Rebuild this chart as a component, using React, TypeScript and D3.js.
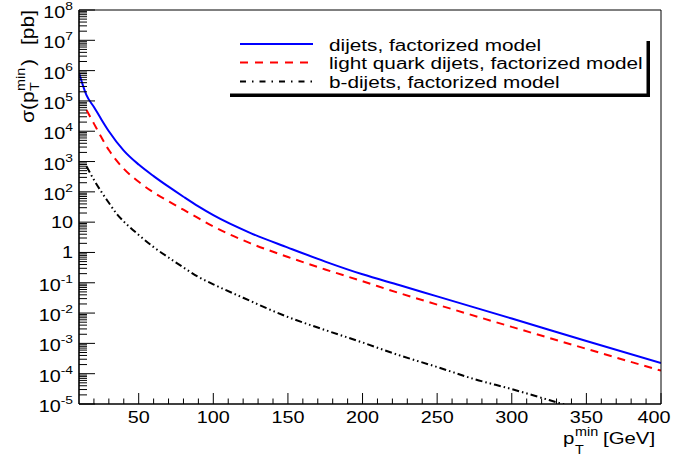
import React from "react";
import * as d3 from "d3";

// ---- data ----
const ptDijets = [10, 15, 20, 25, 30, 40, 50, 60, 70, 80, 90, 100, 125, 150, 175, 200, 225, 250, 300, 350, 400];
const sigmaDijets = [8.5e5, 1.55e5, 6.3e4, 2.45e4, 1.0e4, 2.3e3, 795, 331, 148, 69, 33.1, 17.0, 4.37, 1.45, 0.5, 0.19, 0.083, 0.0355, 6.6e-3, 1.2e-3, 2.24e-4];

const ptLight = [15, 20, 25, 30, 40, 50, 60, 70, 80, 90, 100, 125, 150, 175, 200, 225, 250, 300, 350, 400];
const sigmaLight = [5.0e4, 1.78e4, 6.3e3, 2.4e3, 575, 214, 95, 49, 25.7, 13.5, 7.2, 2.0, 0.71, 0.275, 0.112, 0.045, 0.019, 3.5e-3, 6.6e-4, 1.26e-4];

const ptB = [15, 20, 25, 30, 35, 40, 50, 60, 70, 80, 90, 100, 120, 150, 175, 200, 225, 250, 275, 300, 325, 350];
const sigmaB = [700, 250, 100, 43.6, 19.5, 10.5, 3.8, 1.5, 0.68, 0.32, 0.155, 0.089, 0.032, 7.4e-3, 2.75e-3, 1.07e-3, 4.0e-4, 1.66e-4, 6.6e-5, 3.1e-5, 1.35e-5, 6.0e-6];

const legendLabels = [
  "dijets, factorized model",
  "light quark dijets, factorized model",
  "b-dijets, factorized model",
];
const xTickValues = [50, 100, 150, 200, 250, 300, 350, 400];
const yExponents = [8, 7, 6, 5, 4, 3, 2, 1, 0, -1, -2, -3, -4, -5];

// ---- layout ----
const W = 676, H = 457;
const L = 79, R = 661, T = 10, B = 404;
const FONT = "'Liberation Sans', Arial, Helvetica, sans-serif";
const SX = 1.2;

const x = d3.scaleLinear().domain([10, 400]).range([L, R]);
const y = d3.scaleLog().domain([1e-5, 1e8]).range([B, T]);

function mkLine(px: number[], py: number[]) {
  const pts = px.map((p, i) => [p, py[i]] as [number, number]);
  return d3
    .line<[number, number]>()
    .x((d) => x(d[0]))
    .y((d) => y(d[1]))
    .curve(d3.curveMonotoneX)(pts) as string;
}

function WText(props: { x: number; y: number; size: number; anchor?: string; children: React.ReactNode }) {
  return (
    <text
      transform={`translate(${props.x},${props.y}) scale(${SX},1)`}
      fontSize={props.size}
      textAnchor={props.anchor || "start"}
      fontFamily={FONT}
      fill="#000"
    >
      {props.children}
    </text>
  );
}

export default function App() {
  const minorY: number[] = [];
  for (let e = -5; e < 8; e++) for (let k = 2; k <= 9; k++) minorY.push(k * Math.pow(10, e));
  const minorX: number[] = [];
  for (let v = 20; v <= 400; v += 10) if (v % 50 !== 0) minorX.push(v);

  const series = [
    { px: ptDijets, py: sigmaDijets, color: "#0000ff", dash: undefined as string | undefined, legDash: undefined as string | undefined },
    { px: ptLight, py: sigmaLight, color: "#ff0000", dash: "8,6", legDash: "8,7" },
    { px: ptB, py: sigmaB, color: "#000000", dash: "7,3,1.5,3,1.5,3", legDash: "6,6,1.5,6" },
  ];
  const legRows = [44, 62.5, 81.5];

  return (
    <svg width={W} height={H} style={{ position: "absolute", left: 0, top: 0, background: "#fff" }}>
      <rect x={0} y={0} width={W} height={H} fill="#fff" />
      <defs>
        <clipPath id="plotclip">
          <rect x={L} y={T} width={R - L} height={B - T} />
        </clipPath>
      </defs>

      {/* curves */}
      <g clipPath="url(#plotclip)">
        {series.map((s, i) => (
          <path key={i} d={mkLine(s.px, s.py)} fill="none" stroke={s.color} strokeWidth={2} strokeDasharray={s.dash} />
        ))}
      </g>

      {/* frame */}
      <line x1={L} x2={R} y1={T} y2={T} stroke="#000" strokeWidth={1} />
      <line x1={R} x2={R} y1={T} y2={B} stroke="#000" strokeWidth={1} />
      <line x1={L} x2={L} y1={T} y2={B} stroke="#000" strokeWidth={1.6} />
      <line x1={L} x2={R} y1={B} y2={B} stroke="#000" strokeWidth={1.6} />

      {/* y ticks */}
      {yExponents.map((e) => (
        <line key={"ym" + e} x1={L} x2={L + 16} y1={y(Math.pow(10, e))} y2={y(Math.pow(10, e))} stroke="#000" strokeWidth={1} />
      ))}
      {minorY.map((v, i) => (
        <line key={"yn" + i} x1={L} x2={L + 8} y1={y(v)} y2={y(v)} stroke="#000" strokeWidth={1} />
      ))}
      {/* x ticks */}
      {xTickValues.map((v) => (
        <line key={"xm" + v} x1={x(v)} x2={x(v)} y1={B} y2={B - 11} stroke="#000" strokeWidth={1} />
      ))}
      {minorX.map((v) => (
        <line key={"xn" + v} x1={x(v)} x2={x(v)} y1={B} y2={B - 5.5} stroke="#000" strokeWidth={1} />
      ))}

      {/* y tick labels */}
      {yExponents.map((e) => {
        const yy = y(Math.pow(10, e));
        if (e === 0)
          return (
            <WText key={"yl" + e} x={73} y={yy + 6} size={16.5} anchor="end">
              1
            </WText>
          );
        if (e === 1)
          return (
            <WText key={"yl" + e} x={73} y={yy + 6} size={16.5} anchor="end">
              10
            </WText>
          );
        return (
          <WText key={"yl" + e} x={73} y={yy + 8} size={16.5} anchor="end">
            10
            <tspan fontSize={11.5} dy={-8}>
              {e < 0 ? "-" + Math.abs(e) : String(e)}
            </tspan>
          </WText>
        );
      })}

      {/* x tick labels */}
      {xTickValues.map((v) => (
        <WText key={"xl" + v} x={Math.min(x(v), W - 22)} y={423} size={16.5} anchor="middle">
          {String(v)}
        </WText>
      ))}

      {/* x title */}
      <WText x={563} y={444} size={17}>p</WText>
      <WText x={575} y={436} size={12}>min</WText>
      <WText x={575} y={454} size={12}>T</WText>
      <WText x={603} y={444} size={17}>[GeV]</WText>

      {/* y title */}
      <g transform="translate(34,123) rotate(-90)">
        <WText x={0} y={0} size={17.5}>σ(p</WText>
        <WText x={32} y={-9} size={12}>min</WText>
        <WText x={32} y={5} size={12}>T</WText>
        <WText x={57} y={0} size={17.5}>)</WText>
        <WText x={113} y={0} size={17.5} anchor="end">[pb]</WText>
      </g>

      {/* legend */}
      <rect x={230} y={93.5} width={420} height={3.5} fill="#000" />
      <rect x={646.5} y={41} width={3.5} height={56} fill="#000" />
      {series.map((s, i) => (
        <g key={"lg" + i}>
          <line x1={240} x2={313} y1={legRows[i]} y2={legRows[i]} stroke={s.color} strokeWidth={2} strokeDasharray={s.legDash} />
          <WText x={329} y={legRows[i] + 6.5} size={17.3}>
            {legendLabels[i]}
          </WText>
        </g>
      ))}
    </svg>
  );
}
